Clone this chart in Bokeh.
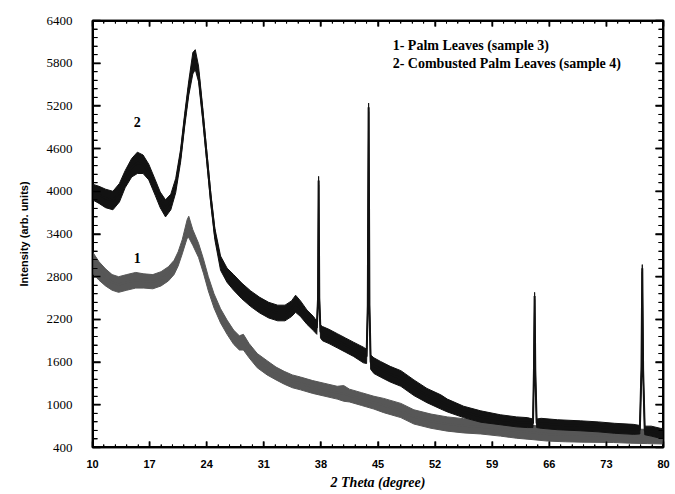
import numpy as np
from bokeh.plotting import figure
from bokeh.models import FixedTicker, LinearAxis, Label, Range1d
from bokeh.embed import file_html
from bokeh.resources import INLINE

# ---------------- data ----------------
x_ticks = [10, 17, 24, 31, 38, 45, 52, 59, 66, 73, 80]
y_ticks = [400, 1000, 1600, 2200, 2800, 3400, 4000, 4600, 5200, 5800, 6400]

# Sample 4: Combusted Palm Leaves (curve 2) - band centre and half-width of noise
s4_theta = [10.0, 10.8, 11.6, 12.5, 13.3, 14.0, 14.8, 15.5, 16.2, 16.9, 17.7, 18.3, 18.95,
            19.6, 20.2, 20.8, 21.3, 21.8, 22.3, 22.6, 23.0, 23.5, 24.0, 24.5, 25.0, 25.7,
            26.5, 27.3, 28.3, 29.4, 30.5, 31.6, 32.7, 33.6, 34.4, 34.9, 35.5, 36.3, 37.1,
            37.5, 37.65, 37.72, 37.8, 37.95, 38.2, 39.0, 40.0, 41.0, 42.0, 43.2, 43.6,
            43.75, 43.85, 43.95, 44.1, 44.5, 45.3, 46.5, 47.8, 49.4, 51.0, 52.7, 53.5,
            55.5, 57.6, 60.0, 62.0, 63.3, 64.0, 64.12, 64.2, 64.28, 64.45, 65.0, 67.0,
            69.8, 72.0, 74.0, 76.3, 77.1, 77.3, 77.4, 77.5, 77.7, 78.5, 79.6, 80.0]
s4_mid = [3990, 3950, 3900, 3870, 3980, 4170, 4330, 4400, 4380, 4270, 4050, 3880, 3760,
          3850, 4080, 4500, 5000, 5450, 5800, 5850, 5650, 5100, 4500, 3900, 3400, 2990,
          2820, 2720, 2600, 2490, 2400, 2330, 2290, 2290, 2350, 2420, 2350, 2230, 2140,
          2080, 2500, 4150, 2500, 2030, 2000, 1960, 1900, 1840, 1780, 1700, 1680,
          2400, 5180, 2400, 1600, 1550, 1500, 1430, 1370, 1240, 1130, 1040, 990,
          900, 835, 790, 760, 750, 740, 1500, 2530, 1500, 740, 740, 720,
          705, 690, 670, 655, 650, 1500, 2920, 1500, 640, 630, 600, 595]
s4_noise = [110, 120, 130, 130, 130, 120, 130, 150, 130, 110, 110, 110, 120,
            110, 100, 90, 90, 100, 150, 140, 110, 90, 80, 80, 80, 100,
            100, 110, 110, 110, 110, 110, 110, 110, 110, 120, 110, 100, 100,
            90, 50, 60, 50, 90, 100, 100, 100, 100, 100, 110, 100,
            50, 60, 50, 100, 110, 110, 110, 110, 110, 100, 100, 90,
            80, 80, 70, 70, 70, 60, 40, 50, 40, 60, 70, 70,
            70, 70, 70, 70, 60, 40, 50, 40, 60, 70, 70, 70]

# Sample 3: Palm Leaves (curve 1)
s3_theta = [10.0, 10.8, 11.6, 12.4, 13.2, 14.2, 15.3, 16.3, 17.4, 18.4, 19.3, 20.0, 20.5,
            21.0, 21.6, 21.8, 22.3, 23.0, 23.6, 24.2, 24.9, 25.7, 26.5, 27.3, 28.0, 28.5,
            29.2, 30.2, 31.4, 32.5, 33.5, 34.5, 35.5, 37.0, 38.5, 40.0, 40.8, 41.5, 43.0,
            44.5, 45.7, 47.8, 49.4, 51.5, 53.5, 55.5, 57.6, 60.0, 62.0, 64.0, 65.8, 68.0,
            70.0, 73.9, 76.0, 78.0, 80.0]
s3_mid = [3000, 2880, 2790, 2720, 2690, 2720, 2750, 2740, 2730, 2770, 2840, 2930, 3050,
          3220, 3470, 3500, 3350, 3170, 2950, 2700, 2460, 2250, 2090, 1950, 1870, 1880,
          1760, 1620, 1520, 1440, 1380, 1330, 1300, 1250, 1210, 1170, 1160, 1130, 1080,
          1030, 990, 920, 830, 770, 730, 705, 690, 660, 630, 610, 590, 580,
          575, 570, 560, 555, 550]
s3_noise = [150, 130, 120, 110, 110, 110, 110, 100, 100, 100, 100, 100, 100,
            100, 130, 150, 110, 100, 100, 100, 100, 100, 100, 100, 100, 110,
            100, 100, 100, 90, 90, 90, 90, 90, 90, 90, 110, 90, 90,
            90, 100, 100, 100, 100, 100, 100, 100, 100, 100, 100, 100, 100,
            100, 100, 100, 100, 100]

legend_lines = ["1- Palm Leaves (sample 3)", "2- Combusted Palm Leaves (sample 4)"]
curve_labels = ["1", "2"]
x_title = "2 Theta (degree)"
y_title = "Intensity (arb. units)"

# ---------------- figure ----------------
SERIF = "Liberation Serif"
SANS = "Liberation Sans"
W, H = 675, 494
ML, MR, MT, MB = 92, 12, 20, 47

p = figure(width=W, height=H, output_backend="svg", toolbar_location=None,
           x_range=Range1d(x_ticks[0], x_ticks[-1]), y_range=Range1d(y_ticks[0], y_ticks[-1]),
           min_border_left=ML, min_border_right=MR, min_border_top=MT, min_border_bottom=MB)
p.grid.visible = False
p.outline_line_color = "black"
p.outline_line_width = 1.5

x_step = (x_ticks[1] - x_ticks[0]) / 5.0
y_step = (y_ticks[1] - y_ticks[0]) / 5.0
x_minor = np.arange(x_ticks[0], x_ticks[-1] + 1e-6, x_step).round(3).tolist()
y_minor = np.arange(y_ticks[0], y_ticks[-1] + 1e-6, y_step).round(3).tolist()


def style_axis(ax, ticks, minor, major_len, minor_len):
    ax.ticker = FixedTicker(ticks=ticks, minor_ticks=minor)
    ax.major_tick_in = major_len
    ax.major_tick_out = 0
    ax.minor_tick_in = minor_len
    ax.minor_tick_out = 0
    ax.major_tick_line_color = "black"
    ax.minor_tick_line_color = "black"
    ax.major_tick_line_width = 1.5
    ax.minor_tick_line_width = 1
    ax.axis_line_color = "black"
    ax.axis_line_width = 1.5


xa = p.xaxis[0]
style_axis(xa, x_ticks, x_minor, 6, 3)
xa.major_label_text_font = SANS
xa.major_label_text_font_style = "bold"
xa.major_label_text_font_size = "11px"
xa.major_label_text_color = "black"
xa.major_label_standoff = 12
xa.axis_label = x_title
xa.axis_label_text_font = SERIF
xa.axis_label_text_font_style = "bold italic"
xa.axis_label_text_font_size = "14px"
xa.axis_label_text_color = "black"
xa.axis_label_standoff = 4

ya = p.yaxis[0]
style_axis(ya, y_ticks, y_minor, 8, 5)
ya.major_label_text_font = SERIF
ya.major_label_text_font_style = "normal"
ya.major_label_text_font_size = "13px"
ya.major_label_text_color = "black"
ya.major_label_standoff = 20
ya.axis_label = y_title
ya.axis_label_text_font = SANS
ya.axis_label_text_font_style = "bold"
ya.axis_label_text_font_size = "11px"
ya.axis_label_text_color = "black"
ya.axis_label_standoff = 14

top = LinearAxis()
style_axis(top, x_ticks, x_minor, 6, 3)
top.major_label_overrides = {t: "" for t in x_ticks}
top.major_label_standoff = 0
p.add_layout(top, "above")

right = LinearAxis()
style_axis(right, y_ticks, y_minor, 8, 5)
right.major_label_overrides = {t: "" for t in y_ticks}
right.major_label_standoff = 0
p.add_layout(right, "right")

# ------- frame and inward ticks as glyphs, drawn first -------
x0, x1 = x_ticks[0], x_ticks[-1]
y0, y1 = y_ticks[0], y_ticks[-1]
px_per_x = (W - ML - MR) / (x1 - x0)
px_per_y = (H - MT - MB) / (y1 - y0)


def ticks_x(vals, length_px, width):
    d = length_px / px_per_y
    p.segment(x0=vals, y0=[y0] * len(vals), x1=vals, y1=[y0 + d] * len(vals),
              line_color="black", line_width=width)
    p.segment(x0=vals, y0=[y1] * len(vals), x1=vals, y1=[y1 - d] * len(vals),
              line_color="black", line_width=width)


def ticks_y(vals, length_px, width):
    d = length_px / px_per_x
    p.segment(x0=[x0] * len(vals), y0=vals, x1=[x0 + d] * len(vals), y1=vals,
              line_color="black", line_width=width)
    p.segment(x0=[x1] * len(vals), y0=vals, x1=[x1 - d] * len(vals), y1=vals,
              line_color="black", line_width=width)


ticks_x([v for v in x_minor if v not in x_ticks], 3, 1)
ticks_x(x_ticks, 6, 1.5)
ticks_y([v for v in y_minor if v not in y_ticks], 5, 1)
ticks_y(y_ticks, 8, 1.5)
p.segment(x0=[x0, x1, x0, x0], y0=[y0, y0, y0, y1], x1=[x0, x1, x1, x1], y1=[y1, y1, y0, y1],
          line_color="black", line_width=3)

# ---------------- curves ----------------
GREY = "#575757"
BLACK = "#121212"


def band(theta, mid, noise):
    hi = [m + n for m, n in zip(mid, noise)]
    lo = [m - n for m, n in zip(mid, noise)]
    return list(theta) + list(theta)[::-1], hi + lo[::-1]


bx3, by3 = band(s3_theta, s3_mid, s3_noise)
bx4, by4 = band(s4_theta, s4_mid, s4_noise)

p.patch(bx3, by3, fill_color=GREY, line_color=GREY, line_width=1)
p.line(s3_theta, s3_mid, line_color=GREY, line_width=2)
p.patch(bx4, by4, fill_color=BLACK, line_color=BLACK, line_width=1)
p.line(s4_theta, s4_mid, line_color=BLACK, line_width=2)

# ---------------- annotations ----------------
for txt, yy in zip(curve_labels, [3056, 4967]):
    p.add_layout(Label(x=15.5, y=yy, text=txt, text_font=SERIF,
                       text_font_style="bold", text_font_size="14px", text_align="center",
                       text_baseline="middle", text_color="black"))
for txt, yy in zip(legend_lines, [6048, 5795]):
    p.add_layout(Label(x=46.8, y=yy, text=txt, text_font=SERIF,
                       text_font_style="bold", text_font_size="14px", text_align="left",
                       text_baseline="middle", text_color="black"))

open("out.html", "w").write(file_html(p, INLINE))
